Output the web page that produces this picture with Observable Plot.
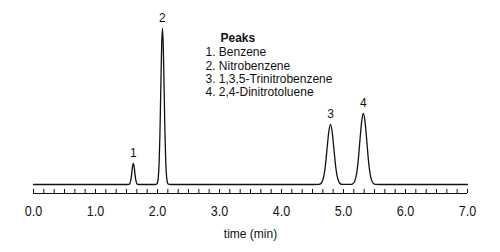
<!DOCTYPE html>
<html>
<head>
<meta charset="utf-8">
<script src="https://cdn.jsdelivr.net/npm/d3@7"></script>
<script src="https://cdn.jsdelivr.net/npm/@observablehq/plot@0.6"></script>
<style>
  html, body { margin: 0; padding: 0; background: #fff; }
  #chart svg { display: block; font-family: "Liberation Sans", Arial, Helvetica, sans-serif; }
</style>
</head>
<body>
<div id="chart"></div>
<script>
// Chromatogram trace: retention time (min) and detector signal (relative units)
const times = [
  0.00, 1.50, 1.541, 1.5525, 1.564, 1.5755, 1.587, 1.5985, 1.61, 1.6215, 1.633, 1.6445, 1.656, 1.6675, 1.679, 1.72,
  1.96, 1.9855, 1.999, 2.0125, 2.026, 2.0395, 2.053, 2.0665, 2.08, 2.0935, 2.107, 2.1205, 2.134, 2.1475, 2.161, 2.1745, 2.22,
  4.55, 4.601, 4.628, 4.655, 4.682, 4.709, 4.736, 4.763, 4.79, 4.817, 4.844, 4.871, 4.898, 4.925, 4.952, 4.979,
  5.05, 5.124, 5.152, 5.18, 5.208, 5.236, 5.264, 5.292, 5.32, 5.348, 5.376, 5.404, 5.432, 5.46, 5.488, 5.516, 5.58,
  7.00
];
const signal = [
  0, 0, 0.15, 0.6, 1.8, 4.3, 8.2, 11.9, 13.5, 11.9, 8.2, 4.3, 1.8, 0.6, 0.15, 0,
  0, 0.2, 1.1, 4.4, 13.5, 32.5, 61, 88, 100, 88, 61, 32.5, 13.5, 4.4, 1.1, 0.2, 0,
  0, 0.08, 0.4, 1.7, 5.2, 12.5, 23.4, 33.9, 38.5, 33.9, 23.4, 12.5, 5.2, 1.7, 0.4, 0.08,
  0.02, 0.1, 0.5, 2.0, 6.1, 14.8, 27.8, 40.0, 45.5, 40.0, 27.8, 14.8, 6.1, 2.0, 0.5, 0.1, 0,
  0
];

// Peak annotations
const peakLabels = ["1", "2", "3", "4"];
const peakTimes = [1.61, 2.08, 4.79, 5.32];
const peakHeights = [13.5, 100, 38.5, 45.5];

// Legend
const legendTitle = "Peaks";
const legendItems = ["1. Benzene", "2. Nitrobenzene", "3. 1,3,5-Trinitrobenzene", "4. 2,4-Dinitrotoluene"];

// Axis
const xTicks = [0, 1, 2, 3, 4, 5, 6, 7];
const xTickLabels = ["0.0", "1.0", "2.0", "3.0", "4.0", "5.0", "6.0", "7.0"];
const minorPerUnit = 6;
const xLabel = "time (min)";
const yMin = -5.77;
const yMax = 100;

const trace = times.map((t, i) => ({t, v: signal[i]}));
const peaks = peakLabels.map((l, i) => ({label: l, t: peakTimes[i], v: peakHeights[i]}));
const minorTicks = d3.range(0, (xTicks[xTicks.length - 1] - xTicks[0]) * minorPerUnit + 1).map(i => xTicks[0] + i / minorPerUnit);

const ink = "#111";

const plot = Plot.plot({
  width: 500,
  height: 252,
  marginLeft: 33,
  marginRight: 33,
  marginTop: 28,
  marginBottom: 59,
  style: {fontSize: "12px", color: ink, background: "#fff"},
  x: {domain: [0, 7], axis: null},
  y: {domain: [yMin, yMax], axis: null},
  marks: [
    Plot.ruleY([yMin], {x1: 0, x2: 7, stroke: ink, strokeWidth: 1.1}),
    Plot.ruleX(minorTicks, {x: d => d, y1: yMin, y2: yMin + 2.6, stroke: ink, strokeWidth: 1}),
    Plot.axisX({
      ticks: xTicks,
      tickFormat: (d) => xTickLabels[xTicks.indexOf(d)],
      tickSize: 0,
      tickPadding: 12,
      label: null,
      fontSize: 12.5
    }),
    Plot.text([xLabel], {frameAnchor: "bottom", dy: 40, lineAnchor: "middle", text: d => d, fontSize: 12, fill: ink}),
    Plot.line(trace, {x: "t", y: "v", stroke: ink, strokeWidth: 1.3, curve: "monotone-x"}),
    Plot.text(peaks, {x: "t", y: "v", text: "label", dy: -10.5, fontSize: 12, fill: ink}),
    Plot.text([legendTitle], {frameAnchor: "top-left", dx: 187, dy: 9, lineAnchor: "middle", text: d => d, textAnchor: "start", fontWeight: "bold", fontSize: 12, fill: ink}),
    Plot.text([legendItems.join("\n")], {frameAnchor: "top-left", dx: 172, dy: 18.5, text: d => d, textAnchor: "start", lineAnchor: "top", lineHeight: 1.1, fontSize: 12, fill: ink})
  ]
});
// slight vertical stretch of the single-line glyphs, as in the reference lettering
plot.querySelectorAll("text").forEach(t => {
  if (t.querySelector("tspan")) return;
  const tr = t.getAttribute("transform");
  if (tr) t.setAttribute("transform", tr + " scale(1,1.14)");
});
document.getElementById("chart").appendChild(plot);
</script>
</body>
</html>
